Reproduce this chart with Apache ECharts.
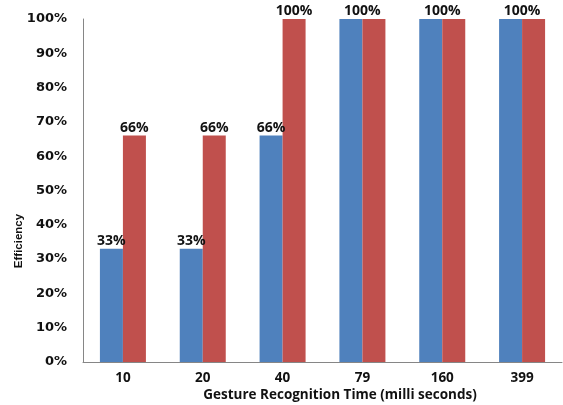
<!DOCTYPE html>
<html><head><meta charset="utf-8">
<script src="https://cdn.jsdelivr.net/npm/echarts@6/dist/echarts.min.js"></script>
<style>html,body{margin:0;padding:0;background:#fff}#c{width:563px;height:405px}</style>
</head><body><div id="c"></div>
<script>
const categories = ['10', '20', '40', '79', '160', '399'];
const blueValues = [33, 33, 66, 100, 100, 100];
const redValues = [66, 66, 100, 100, 100, 100];
const yTicks = [0, 10, 20, 30, 40, 50, 60, 70, 80, 90, 100];

const chart = echarts.init(document.getElementById('c'));
const lblFont = { fontFamily: 'Open Sans', fontWeight: 'bold', fontSize: 14, color: '#111' };
const barW = 23;

const blueData = blueValues.map((v, i) => {
  const same = v === redValues[i];
  return { value: v, label: { show: true, position: 'top', distance: 1, offset: same ? [barW / 2, 0] : [0, 0] } };
});
const redData = redValues.map((v, i) => ({ value: v, label: { show: v !== blueValues[i], position: 'top', distance: 1 } }));

chart.setOption({
  animation: false,
  grid: { left: 83, right: 1, top: 19, bottom: 43, containLabel: false },
  xAxis: {
    type: 'category', data: categories,
    axisLine: { lineStyle: { color: '#868686', width: 1 } },
    axisTick: { show: false },
    axisLabel: { fontFamily: 'Open Sans', fontWeight: 'bold', fontSize: 13.5, color: '#111', margin: 9 }
  },
  yAxis: {
    type: 'value', min: 0, max: 100, interval: 10,
    splitLine: { show: false },
    axisLine: { show: true, lineStyle: { color: '#868686', width: 1 } },
    axisTick: { show: false },
    axisLabel: { fontFamily: 'DejaVu Sans', fontWeight: 'bold', fontSize: 13, color: '#111', margin: 16,
      formatter: v => yTicks.includes(v) ? v + '%' : '' }
  },
  series: [
    { type: 'bar', data: blueData, barWidth: barW, barGap: '0%', itemStyle: { color: '#4F81BD' },
      label: Object.assign({ formatter: p => p.value + '%' }, lblFont) },
    { type: 'bar', data: redData, barWidth: barW, barGap: '0%', itemStyle: { color: '#C0504D' },
      label: Object.assign({ formatter: p => p.value + '%' }, lblFont) }
  ],
  graphic: [
    { type: 'text', x: 340, y: 395, style: { text: 'Gesture Recognition Time (milli seconds)', fontFamily: 'Open Sans', fontWeight: 'bold', fontSize: 13.5, fill: '#111', textAlign: 'center', textVerticalAlign: 'middle' } },
    { type: 'text', x: 19, y: 241, rotation: Math.PI / 2, style: { text: 'Efficiency', fontFamily: 'Liberation Sans', fontWeight: 'bold', fontSize: 11.5, fill: '#111', textAlign: 'center', textVerticalAlign: 'middle' } }
  ]
});
</script></body></html>
